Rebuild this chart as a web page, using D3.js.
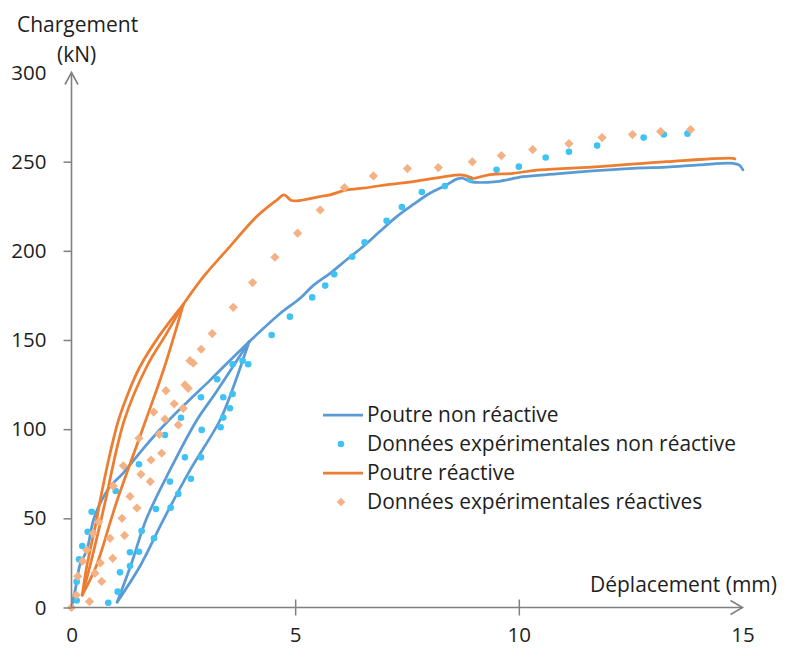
<!DOCTYPE html>
<html>
<head>
<meta charset="utf-8">
<script src="https://cdn.jsdelivr.net/npm/d3@7"></script>
<style>
  html, body { margin: 0; padding: 0; background: #fff; }
  svg { display: block; }
  text { font-family: "Open Sans", "Noto Sans", sans-serif; fill: #1e1e1e; }
</style>
</head>
<body>
<svg id="chart" width="785" height="651"></svg>
<script>
// ---------- data ----------
const xTicks = [0, 5, 10, 15];
const yTicks = [0, 50, 100, 150, 200, 250, 300];
const xTitle = "Déplacement (mm)";
const yTitle = ["Chargement", "(kN)"];

const seriesNames = [
  "Poutre non réactive",
  "Données expérimentales non réactive",
  "Poutre réactive",
  "Données expérimentales réactives"
];

// Poutre non réactive (model curve, split into segments)
const blueLoad = [[0,0],[0.1,12],[0.19,24],[0.34,32],[0.49,49],[0.64,58.4],[0.86,67.7],[1.16,75.5],[1.6,89],[2.1,103],[2.6,115.5],[3.1,127.5],[3.5,137.5],[3.97,149]];
const blueUnload = [[3.97,149],[3.58,121],[3.32,105],[2.65,77],[2.05,49],[1.55,24],[1.02,3]];
const blueReload = [[1.02,3],[1.33,24],[1.68,50],[2.2,77],[2.8,105],[3.24,121],[3.97,149]];
const blueEnvelope = [[3.97,149],[4.67,165],[5.11,173.4],[5.4,180.5],[5.78,187.4],[6.15,195],[6.52,202.4],[6.89,210.8],[7.27,219.2],[7.64,226],[8.01,232.3],[8.35,236.5],[8.61,240.2],[8.75,240.7],[8.91,238.8],[9.5,238.8],[10.1,241.6],[10.84,243.1],[11.5,244.5],[12.55,246.3],[13.3,247],[14.04,248.2],[14.79,249.1],[14.93,248],[15.01,245.4]];

// Poutre réactive
const orangeLoad = [[0.24,7],[0.34,23],[0.45,36],[0.56,49],[0.64,60],[0.84,84],[1.05,105],[1.28,121],[1.53,135],[1.98,153],[2.5,170]];
const orangeUnload = [[2.5,170],[2.08,135],[1.66,105],[1.02,60],[0.88,49],[0.55,23],[0.24,7]];
const orangeReload = [[0.24,7],[0.41,23],[0.66,49],[0.76,60],[1.18,105],[1.68,135],[2.11,153],[2.5,170]];
const orangeEnvelope = [[2.5,170],[2.95,185.5],[3.54,202.4],[4.14,219.2],[4.59,228.5],[4.75,231.4],[4.92,228.2],[5.18,228.5],[5.55,230.4],[5.78,231.4],[6.15,234.2],[6.52,235.1],[6.89,236.5],[7.64,238.8],[8.68,242.6],[8.83,242],[8.98,240.7],[9.3,242.5],[9.87,243.5],[10.47,245.4],[11.81,247.2],[13.3,250],[14.79,251.9],[14.83,251.5]];

// Données expérimentales non réactive
const expBlue = [[0.116,3.9],[0.116,14.5],[0.168,27],[0.241,34.5],[0.362,42.5],[0.451,53.7],[0.988,65.3],[1.508,80.3],[2.089,96.7],[2.447,106.4],[2.894,117.9],[3.258,128],[3.602,136.4],[3.826,138.4],[3.951,136.4],
  [3.392,117.9],[3.602,119.7],[3.542,111.7],[3.392,106.5],[3.334,101.1],[2.91,99.6],[2.536,84.2],[2.894,84.2],[2.201,70.6],[2.67,72.2],[2.387,63.7],[1.888,55.2],[2.217,56],[1.569,42.9],[1.844,38.8],[1.508,31.3],[1.307,31],[1.307,23.3],[1.084,19.7],[1.032,8.9],[0.822,2.7],
  [4.474,152.8],[4.883,163.1],[5.381,173.9],[5.672,180.5],[5.873,186.9],[6.275,196.7],[6.552,204.8],[7.044,216.8],[7.385,224.6],[7.832,233],[8.346,236.3],[8.905,240.2],[9.502,245.4],[10.0,247.2],[10.6,252.3],[11.12,255.6],[11.75,259],[12.79,263.5],[13.24,265.2],[13.77,265.7]];

// Données expérimentales réactives
const expOrange = [[0,0],[0.402,3.3],[0.107,7],[0.675,14.6],[0.139,17.5],[0.525,19.2],[0.644,25],[0.25,26],[0.921,27.6],[0.342,32.2],[0.86,38.8],[1.187,40.4],[0.487,41.6],[0.61,48],[1.128,50],[1.462,55.8],[1.307,62.3],[0.934,68.1],[1.761,70.6],[1.553,74.7],[1.158,79.5],[1.777,82.7],[2.016,86.5],[1.508,94.9],[1.962,97.1],[2.387,102.4],[2.089,105.6],[1.837,109.6],[2.498,111.7],[2.297,114.2],[2.112,121.6],[2.61,122.9],[2.536,124.8],[2.722,137],[2.648,138.4],[2.898,144.8],[3.146,153.6],[3.616,168.3],[4.049,182.2],[4.547,196.4],[5.055,209.9],[5.56,222.9],[6.1,235.4],[6.75,242],[7.51,246.1],[8.2,246.7],[8.96,249.9],[9.61,253.4],[10.31,256.8],[11.12,260.1],[11.86,263.5],[12.54,265.2],[13.17,266.9],[13.84,268]];

// ---------- drawing ----------
const colBlueLine = "#5b9bd5", colOrangeLine = "#ed7d31";
const colBlueDot = "#3fc3f4", colOrangeDot = "#f4b183";
const axisCol = "#808080";

const svg = d3.select("#chart");
const x = d3.scaleLinear().domain([0, 15]).range([71.5, 742.5]);
const y = d3.scaleLinear().domain([0, 300]).range([607.5, 72.5]);

const line = d3.line().x(d => x(d[0])).y(d => y(d[1])).curve(d3.curveCatmullRom.alpha(0.5));

const gData = svg.append("g");
[blueLoad, blueUnload, blueReload, blueEnvelope].forEach(seg => {
  gData.append("path").attr("d", line(seg)).attr("fill", "none")
    .attr("stroke", colBlueLine).attr("stroke-width", 2.75)
    .attr("stroke-linejoin", "round").attr("stroke-linecap", "round");
});
gData.append("g").selectAll("circle").data(expBlue).join("circle")
  .attr("cx", d => x(d[0])).attr("cy", d => y(d[1])).attr("r", 3.3)
  .attr("fill", colBlueDot);
[orangeLoad, orangeUnload, orangeReload, orangeEnvelope].forEach(seg => {
  gData.append("path").attr("d", line(seg)).attr("fill", "none")
    .attr("stroke", colOrangeLine).attr("stroke-width", 2.75)
    .attr("stroke-linejoin", "round").attr("stroke-linecap", "round");
});
const diamond = h => `M0,${-h}L${h},0L0,${h}L${-h},0Z`;
gData.append("g").selectAll("path").data(expOrange).join("path")
  .attr("transform", d => `translate(${x(d[0])},${y(d[1])})`)
  .attr("d", diamond(4.6)).attr("fill", colOrangeDot);

// axes
const yAxis = d3.axisLeft(y).tickValues(yTicks).tickSize(8).tickPadding(17).tickFormat(d3.format("d"));
const gy = svg.append("g").attr("transform", `translate(${x(0)},0)`).call(yAxis);
gy.select(".domain").remove();
gy.selectAll(".tick line").attr("stroke", axisCol).attr("stroke-width", 1.5)
  .filter(d => d === 300).remove();
gy.selectAll(".tick text").style("font-size", "20.5px").attr("font-family", null);

const xAxis = d3.axisBottom(x).tickValues(xTicks).tickSize(8).tickPadding(12).tickFormat(d3.format("d"));
const gx = svg.append("g").attr("transform", `translate(0,${y(0)})`).call(xAxis);
gx.select(".domain").remove();
gx.selectAll(".tick line").attr("stroke", axisCol).attr("stroke-width", 1.5)
  .attr("y1", -8).attr("y2", 8)
  .filter(d => d === 0 || d === 15).remove();
gx.selectAll(".tick text").style("font-size", "20.5px").attr("font-family", null);

// axis lines with open arrow heads
const ax = svg.append("g").attr("stroke", axisCol).attr("stroke-width", 1.6).attr("fill", "none");
ax.append("line").attr("x1", x(0)).attr("y1", y(0)).attr("x2", x(0)).attr("y2", y(300));
ax.append("line").attr("x1", x(0)).attr("y1", y(0)).attr("x2", x(15)).attr("y2", y(0));
ax.append("path").attr("d", `M${x(0)-6.5},${y(300)+12}L${x(0)},${y(300)}L${x(0)+6.5},${y(300)+12}`);
ax.append("path").attr("d", `M${x(15)-12},${y(0)-7}L${x(15)},${y(0)}L${x(15)-12},${y(0)+7}`);

// axis titles
svg.append("text").attr("x", 17).attr("y", 32).style("font-size", "21px").text(yTitle[0]);
svg.append("text").attr("x", 57).attr("y", 62).style("font-size", "21px").text(yTitle[1]);
svg.append("text").attr("x", 777).attr("y", 592).attr("text-anchor", "end").style("font-size", "21px").text(xTitle);

// legend
const legendRows = [
  {name: seriesNames[0], type: "line", color: colBlueLine, base: 422},
  {name: seriesNames[1], type: "dot", color: colBlueDot, base: 451},
  {name: seriesNames[2], type: "line", color: colOrangeLine, base: 480},
  {name: seriesNames[3], type: "diamond", color: colOrangeDot, base: 509}
];
const lg = svg.append("g");
legendRows.forEach(r => {
  const cy = r.base - 7;
  if (r.type === "line") {
    lg.append("line").attr("x1", 323).attr("x2", 363).attr("y1", cy).attr("y2", cy)
      .attr("stroke", r.color).attr("stroke-width", 2.75);
  } else if (r.type === "dot") {
    lg.append("circle").attr("cx", 341).attr("cy", cy).attr("r", 3.3).attr("fill", r.color);
  } else {
    lg.append("path").attr("transform", `translate(341,${cy})`).attr("d", diamond(4.3)).attr("fill", r.color);
  }
  lg.append("text").attr("x", 367).attr("y", r.base).style("font-size", "20.9px").text(r.name);
});
</script>
</body>
</html>
